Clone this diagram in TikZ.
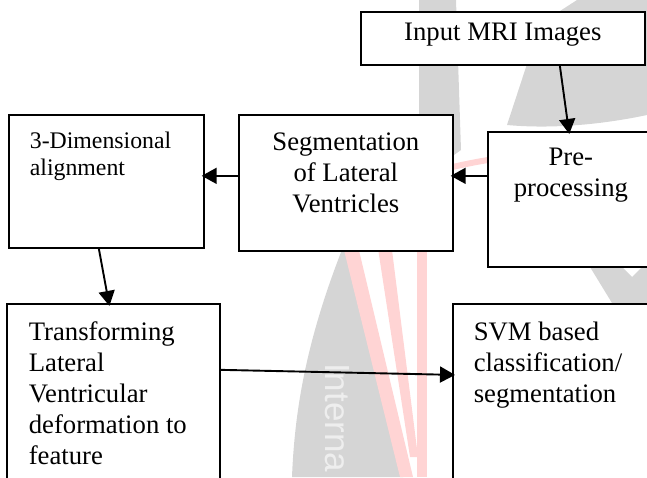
\documentclass[tikz,border=0pt]{standalone}
\usepackage{fontspec}
\setmainfont{Liberation Serif}
\newfontfamily\wmfont{Liberation Sans}
\usetikzlibrary{arrows.meta}
\definecolor{wmgray}{RGB}{213,213,213}
\definecolor{wmpink}{RGB}{255,212,212}
\definecolor{wmtext}{RGB}{238,238,238}
\tikzset {
    style A/.style={
        draw=black,
        fill=white,
        line width=1.7pt,
        rectangle, % one box per step
        inner sep=0pt,
        anchor=north west,
        font=\fontsize{26.7}{31}\selectfont,
    },
    style B/.style={
        style A,
        font=\fontsize{23.8}{27}\selectfont,
    },
    style C/.style={
        draw=black,
        line width=1.9pt,
        -{Triangle[length=15pt,width=16pt]},
        shorten >=-3pt,
    },
    style W/.style={
        fill=wmgray,
        draw=none,
    },
}

\begin{document}
\begin{tikzpicture}[x=1pt, y=1pt]
        \useasboundingbox (0,0) rectangle (647,477);
        \clip (0,0) rectangle (647,477);
        % watermark in the background
        \fill[style W] (419,477) -- (456,477) -- (461,327) -- (440,312) -- (419,327) -- cycle;
        \fill[style W] (577,477) -- (647,477) -- (647,362) .. controls (600,352) and (550,348) .. (507,352) -- (527,413) -- (560,466) -- cycle;
        \fill[style W] (345,235) .. controls (310,147) and (295,77) .. (292,0) -- (403,0) -- cycle;
        \fill[style W] (590,210) -- (622,210) -- (632,200) -- (647,215) -- (647,174) -- (612,174) -- cycle;
        \fill[wmpink] (342,235) -- (357,235) -- (413,0) -- (400,0) -- cycle;
        \fill[wmpink] (377,235) -- (391,235) -- (418,20) -- (410,20) -- cycle;
        \fill[wmpink] (417,0) rectangle (427,235);
        \draw[wmpink, line width=6pt] (440,307) .. controls (460,312) and (480,316) .. (495,318);
        \node[rotate=-90, anchor=base west, inner sep=0pt, text=wmtext, font=\wmfont\fontsize{35}{35}\selectfont] (wm) at (325,114) {Interna};
        % steps
        \node[style A] (inp) at (360,466) {
            \begin{minipage}[c][53pt][t]{284pt}
                \centering\rule{0pt}{29pt}Input MRI Images
            \end{minipage}
        };
        \node[style A] (pre) at (487,346) {
            \begin{minipage}[c][135pt][t]{166pt}
                \centering\rule{0pt}{34pt}Pre-\\processing
            \end{minipage}
        };
        \node[style A] (seg) at (238,363) {
            \begin{minipage}[c][136pt][t]{214pt}
                \centering\rule{0pt}{36pt}Segmentation\\of Lateral\\Ventricles
            \end{minipage}
        };
        \node[style B] (dim) at (8,363) {
            \begin{minipage}[c][133pt][t]{195pt}
                \raggedright\leftskip=21pt\rule{0pt}{34pt}3-Dimensional\\alignment
            \end{minipage}
        };
        \node[style A] (trans) at (6,174) {
            \begin{minipage}[c][190pt][t]{213pt}
                \raggedright\leftskip=22pt\rule{0pt}{37pt}Transforming\\Lateral\\Ventricular\\deformation to\\feature
            \end{minipage}
        };
        \node[style A] (svm) at (452,174) {
            \begin{minipage}[c][190pt][t]{208pt}
                \raggedright\leftskip=21pt\rule{0pt}{37pt}SVM based\\classification/\\segmentation
            \end{minipage}
        };
        % flow
        \draw[style C] ([xshift=57pt]inp.south) -- ([xshift=-2pt]pre.north);
        \draw[style C] ([yshift=23.5pt]pre.west) -- ([yshift=7pt]seg.east);
        \draw[style C] ([yshift=7pt]seg.west) -- ([yshift=5.5pt]dim.east);
        \draw[style C] ([xshift=-7.5pt]dim.south) -- ([xshift=-4.5pt]trans.north);
        \draw[style C] ([yshift=29pt]trans.east) -- ([yshift=24pt]svm.west);
    \end{tikzpicture}
\end{document}
